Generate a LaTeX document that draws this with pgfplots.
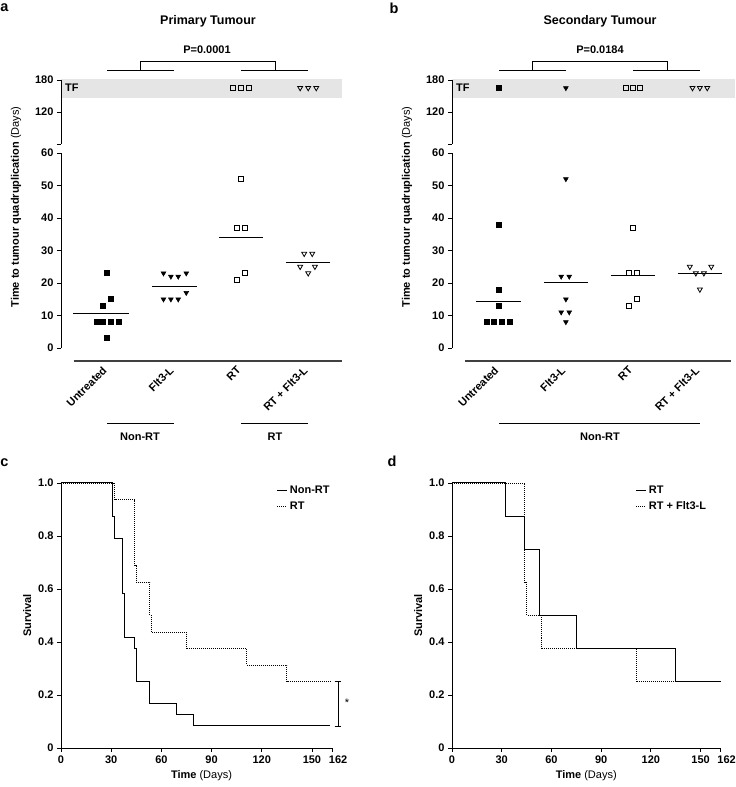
\documentclass[border=0pt]{standalone}
\usepackage{fontspec}
\setmainfont{Liberation Sans}
\usepackage{pgfplots}
\pgfplotsset{compat=1.18}

\newcommand{\fs}{\fontsize{11}{13}\selectfont}
\newcommand{\fsb}{\bfseries\fontsize{11}{13}\selectfont}

\pgfplotsset{
  base/.style={
    scale only axis, clip=false, anchor=south west,
    tick align=outside, major tick length=4pt,
    tick style={black, line width=0.8pt},
    axis line style={line width=0.8pt},
    tick label style={font=\fsb},
    /pgf/number format/assume math mode=true,
  },
  dot/.style={base, axis y line*=left},
  low/.style={dot, ymin=0, ymax=60, ytick={0,10,20,30,40,50,60},
    axis x line*=bottom, x axis line style={draw=none}, xtick={0,1,2,3}, xtick style={draw=none},
    xticklabels={Untreated,Flt3-L,RT,RT + Flt3-L},
    xticklabel style={rotate=45, anchor=east}, xticklabel shift=14pt},
  up/.style={dot, axis on top, ymin=60, ymax=180, ytick={60,120,180}, yticklabels={,120,180},
    axis x line=none},
  sq/.style={only marks, mark=square*, mark size=2.5pt, mark options={black, line width=0.6pt}},
  osq/.style={only marks, mark=square, mark size=2.5pt, mark options={black, fill=white, line width=0.8pt}},
  tri/.style={only marks, mark=triangle*, mark size=2.8pt, mark options={black, rotate=180, line width=0.5pt}},
  otri/.style={only marks, mark=triangle, mark size=2.8pt, mark options={black, fill=white, rotate=180, line width=0.8pt}},
  mean/.style={black, line width=1pt, no marks},
  surv/.style={base, axis lines*=left, height=265pt, xmin=0, xmax=162, ymin=0, ymax=1,
    xtick={0,30,60,90,120,150,162}, xticklabels={0,30,60,90,120,150,\hphantom{16}162},
    ytick={0,0.2,0.4,0.6,0.8,1}, yticklabels={0,0.2,0.4,0.6,0.8,1.0},
    xlabel={\textbf{Time} (Days)}, ylabel={\textbf{Survival}}, label style={font=\fs},
    legend cell align=left,
    legend style={draw=none, fill=none, font=\fsb, anchor=north west, row sep=3pt},
    legend image code/.code={\draw[##1] (0pt,0pt) -- (10pt,0pt);}},
  solidk/.style={const plot, black, line width=1pt, no marks},
  dotk/.style={const plot, black, line width=0.9pt, dash pattern=on 1pt off 1pt, no marks},
}

\begin{document}
\begin{tikzpicture}
\path[use as bounding box] (0pt,0pt) rectangle (736pt,787pt);

% ---------- panel a ----------
\begin{axis}[low, at={(61pt,439pt)}, width=280.7pt, height=195pt, xmin=-0.69, xmax=3.5]
\addplot[sq] coordinates {(0,23) (0.06,15) (-0.06,13) (-0.16,8) (-0.06,8) (0.06,8) (0.18,8) (0,3)};
\addplot[tri] coordinates {(0.84,23) (0.95,22) (1.06,22) (1.18,23) (0.84,15) (0.95,15) (1.06,15) (1.18,17)};
\addplot[osq] coordinates {(2,52) (1.94,37) (2.06,37) (1.94,21) (2.06,23)};
\addplot[otri] coordinates {(2.94,29) (3.06,29) (2.88,25) (3.1,25) (3,23)};
\addplot[mean] coordinates {(-0.51,10.75) (0.33,10.75)};
\addplot[mean] coordinates {(0.67,19) (1.34,19)};
\addplot[mean] coordinates {(1.67,34) (2.33,34)};
\addplot[mean] coordinates {(2.67,26.2) (3.33,26.2)};
\draw[line width=1.6pt, black!75] (axis cs:-0.5,-4) -- (axis cs:3.5,-4);
\end{axis}
\begin{axis}[up, at={(61pt,643pt)}, width=280.7pt, height=64pt, xmin=-0.69, xmax=3.5]
\fill[black!10] (axis cs:-0.69,146) rectangle (axis cs:3.5,181);
\node[anchor=west, inner sep=0pt, font=\fsb] at (axis cs:-0.63,165) {TF};
\addplot[osq] coordinates {(1.88,165) (2,165) (2.12,165)};
\addplot[otri] coordinates {(2.88,165) (3,165) (3.12,165)};
\end{axis}

% ---------- panel b ----------
\begin{axis}[low, at={(452pt,439pt)}, width=282.7pt, height=195pt, xmin=-0.70, xmax=3.52]
\addplot[sq] coordinates {(0,38) (0,18) (0,13) (-0.18,8) (-0.07,8) (0.05,8) (0.16,8)};
\addplot[tri] coordinates {(1,52) (0.93,22) (1.05,22) (1,15) (0.93,11) (1.05,11) (1,8)};
\addplot[osq] coordinates {(2,37) (1.94,23) (2.06,23) (1.94,13) (2.06,15)};
\addplot[otri] coordinates {(2.85,25) (2.94,23) (3.06,23) (3.17,25) (3,18)};
\addplot[mean] coordinates {(-0.34,14.43) (0.33,14.43)};
\addplot[mean] coordinates {(0.67,20.14) (1.33,20.14)};
\addplot[mean] coordinates {(1.67,22.2) (2.33,22.2)};
\addplot[mean] coordinates {(2.67,22.8) (3.33,22.8)};
\draw[line width=1.6pt, black!75] (axis cs:-0.5,-4) -- (axis cs:3.47,-4);
\end{axis}
\begin{axis}[up, at={(452pt,643pt)}, width=282.7pt, height=64pt, xmin=-0.70, xmax=3.52]
\fill[black!10] (axis cs:-0.70,146) rectangle (axis cs:3.52,181);
\node[anchor=west, inner sep=0pt, font=\fsb] at (axis cs:-0.64,165) {TF};
\addplot[sq] coordinates {(0,165)};
\addplot[tri] coordinates {(1,165)};
\addplot[osq] coordinates {(1.89,165) (2,165) (2.11,165)};
\addplot[otri] coordinates {(2.89,165) (3,165) (3.11,165)};
\end{axis}

% ---------- panel c ----------
\begin{axis}[surv, at={(61pt,39pt)}, width=271pt, xlabel style={xshift=5pt},
  legend style={at={(0.785,1.005)}}]
\addplot[solidk] coordinates {(0,1) (31,0.875) (32,0.7917) (37,0.5833) (38,0.4167) (44,0.375) (45,0.25) (53,0.1667) (69,0.125) (79,0.0833) (161,0.0833)};
\addlegendentry{Non-RT}
\addplot[dotk] coordinates {(0,1) (32,0.9375) (44,0.6875) (45,0.625) (53,0.5) (54,0.4375) (75,0.375) (111,0.3125) (135,0.25) (161,0.25)};
\addlegendentry{RT}
\draw[line width=0.8pt] (axis cs:165.6,0.25) -- (axis cs:165.6,0.0833);
\draw[line width=0.8pt] (axis cs:163.6,0.25) -- (axis cs:167.6,0.25);
\draw[line width=0.8pt] (axis cs:163.6,0.0833) -- (axis cs:167.6,0.0833);
\node[font=\fs] at (axis cs:171,0.17) {*};
\end{axis}

% ---------- panel d ----------
\begin{axis}[surv, at={(452pt,39pt)}, width=268.5pt,
  legend style={at={(0.673,1.005)}}]
\addplot[solidk] coordinates {(0,1) (32,0.875) (44,0.75) (53,0.5) (75,0.375) (135,0.25) (162,0.25)};
\addlegendentry{RT}
\addplot[dotk] coordinates {(0,1) (44,0.625) (45,0.5) (54,0.375) (111,0.25) (135,0.25)};
\addlegendentry{RT + Flt3-L}
\end{axis}

% ---------- annotations ----------
\node[font=\bfseries\fontsize{14.5}{16}\selectfont] at (4.5pt,779pt) {a};
\node[font=\bfseries\fontsize{14.5}{16}\selectfont] at (394pt,779pt) {b};
\node[font=\bfseries\fontsize{14.5}{16}\selectfont] at (4.5pt,324pt) {c};
\node[font=\bfseries\fontsize{14.5}{16}\selectfont] at (392pt,326pt) {d};

\node[font=\bfseries\fontsize{12.5}{14}\selectfont] at (208pt,766pt) {Primary Tumour};
\node[font=\bfseries\fontsize{12.5}{14}\selectfont] at (600pt,766pt) {Secondary Tumour};
\node[font=\fsb] at (207pt,737pt) {P=0.0001};
\node[font=\fsb] at (600pt,737pt) {P=0.0184};

\draw[line width=0.8pt] (140pt,717pt) -- (140pt,726pt) -- (275pt,726pt) -- (275pt,717pt);
\draw[line width=0.8pt] (107pt,717pt) -- (174pt,717pt);
\draw[line width=0.8pt] (241pt,717pt) -- (308pt,717pt);
\draw[line width=0.8pt] (532pt,717pt) -- (532pt,726pt) -- (667pt,726pt) -- (667pt,717pt);
\draw[line width=0.8pt] (499pt,717pt) -- (566pt,717pt);
\draw[line width=0.8pt] (633pt,717pt) -- (700pt,717pt);

\draw[line width=0.8pt] (107pt,364pt) -- (174pt,364pt);
\draw[line width=0.8pt] (241pt,364pt) -- (308pt,364pt);
\node[font=\fsb] at (140pt,350pt) {Non-RT};
\node[font=\fsb] at (275pt,350pt) {RT};
\draw[line width=0.8pt] (499pt,364pt) -- (700pt,364pt);
\node[font=\fsb] at (600pt,350pt) {Non-RT};

\node[rotate=90, font=\fs] at (16pt,580pt) {\textbf{Time to tumour quadruplication} (Days)};
\node[rotate=90, font=\fs] at (407pt,580pt) {\textbf{Time to tumour quadruplication} (Days)};
\end{tikzpicture}
\end{document}
